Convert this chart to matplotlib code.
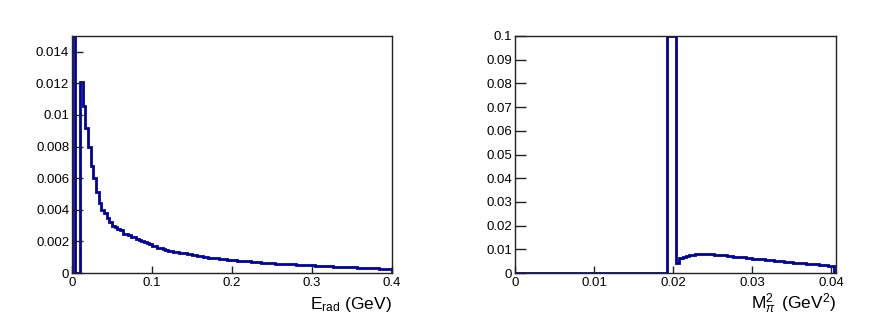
import matplotlib
matplotlib.use('Agg')
import matplotlib.pyplot as plt
from matplotlib.ticker import FuncFormatter
import numpy as np

# left histogram: E_rad, 120 bins from 0 to 0.4 GeV
erad_edges = np.linspace(0.0, 0.4, 121)
erad_vals = [
    0.06, 0.0, 0.0, 0.0121, 0.0106, 0.0092, 0.0080, 0.0068, 0.0060, 0.0051,
    0.0044, 0.0040, 0.0038, 0.0035, 0.0032, 0.0030, 0.0029, 0.0028, 0.0027, 0.0025,
    0.00245, 0.00240, 0.00231, 0.00228, 0.00218, 0.00210, 0.00204, 0.00198, 0.00190, 0.00182,
    0.00172, 0.00168, 0.00160, 0.00156, 0.00150, 0.00148, 0.00142, 0.00138, 0.00135, 0.00133,
    0.00129, 0.00126, 0.00124, 0.00120, 0.00118, 0.00114, 0.00112, 0.00108, 0.00105, 0.00104,
    0.00100, 0.00098, 0.00097, 0.00094, 0.00092, 0.00090, 0.00089, 0.00086, 0.00085, 0.00083,
    0.00082, 0.00080, 0.00079, 0.00077, 0.00076, 0.00074, 0.00073, 0.00071, 0.00070, 0.00069,
    0.00067, 0.00066, 0.00065, 0.00064, 0.00062, 0.00062, 0.00060, 0.00059, 0.00058, 0.00057,
    0.00056, 0.00055, 0.00054, 0.00054, 0.00053, 0.00052, 0.00051, 0.00051, 0.00050, 0.00049,
    0.00048, 0.00047, 0.00047, 0.00046, 0.00044, 0.00044, 0.00043, 0.00042, 0.00041, 0.00040,
    0.00040, 0.00039, 0.00038, 0.00037, 0.00036, 0.00036, 0.00035, 0.00034, 0.00033, 0.00033,
    0.00032, 0.00031, 0.00030, 0.00029, 0.00029, 0.00028, 0.00027, 0.00026, 0.00025, 0.00024,
]

# right histogram: M_pi^2, 101 bins of 0.0004 GeV^2
m2_edges = np.linspace(0.0, 0.0404, 102)
m2_vals = [0.0] * 48 + [
    0.1, 0.1, 0.1,
    0.0042, 0.0062, 0.0068, 0.0072, 0.0075, 0.0077, 0.0079, 0.0080, 0.0080, 0.0080,
    0.0079, 0.0079, 0.0078, 0.0077, 0.0077, 0.0076, 0.0073, 0.0071, 0.0069, 0.0068,
    0.0067, 0.0066, 0.0064, 0.0062, 0.0061, 0.0059, 0.0058, 0.0057, 0.0056, 0.0054,
    0.0053, 0.0052, 0.0050, 0.0049, 0.0048, 0.0047, 0.0046, 0.0044, 0.0043, 0.0042,
    0.0041, 0.0040, 0.0039, 0.0037, 0.0036, 0.0035, 0.0034, 0.0033, 0.0031, 0.0030,
]

plt.rcParams['font.family'] = ['Liberation Sans', 'DejaVu Sans']
plt.rcParams['mathtext.fontset'] = 'custom'
plt.rcParams['mathtext.rm'] = 'Liberation Sans'
plt.rcParams['mathtext.it'] = 'Liberation Sans:italic'

line_col = '#00009c'
fmt = FuncFormatter(lambda v, p: '%g' % round(v, 6))

fig = plt.figure(figsize=(8.88, 3.32), dpi=100)
ax1 = fig.add_axes([72 / 888, 59 / 332, 320 / 888, 237 / 332])
ax2 = fig.add_axes([515 / 888, 59 / 332, 321 / 888, 237 / 332])


def style(ax):
    for s in ax.spines.values():
        s.set_linewidth(1.0)
        s.set_color('#222222')
    ax.tick_params(direction='in', top=False, right=False, labelsize=9.5,
                   width=1.0, color='#222222')
    ax.tick_params(axis='y', length=8, pad=2)
    ax.tick_params(axis='x', length=5, pad=3)
    ax.xaxis.set_major_formatter(fmt)
    ax.yaxis.set_major_formatter(fmt)


ax1.stairs(erad_vals, erad_edges, color=line_col, lw=2.0)
ax1.set_xlim(0, 0.4)
ax1.set_ylim(0, 0.015)
ax1.set_xticks([0, 0.1, 0.2, 0.3, 0.4])
ax1.set_yticks(np.arange(0, 0.0141, 0.002))
style(ax1)
ax1.set_xlabel(r'E$_{\mathrm{rad}}$ (GeV)', fontsize=12.5, loc='right', labelpad=4)

ax2.stairs(m2_vals, m2_edges, color=line_col, lw=2.0)
ax2.set_xlim(0, 0.0406)
ax2.set_ylim(0, 0.1)
ax2.set_xticks([0, 0.01, 0.02, 0.03, 0.04])
ax2.set_yticks(np.arange(0, 0.1001, 0.01))
style(ax2)
ax2.set_xlabel(r'M$_{\pi}^{2}$$\,$ (GeV$^{2}$)', fontsize=12.5, loc='right', labelpad=2)

fig.savefig('out.png', dpi=100)
plt.close(fig)
